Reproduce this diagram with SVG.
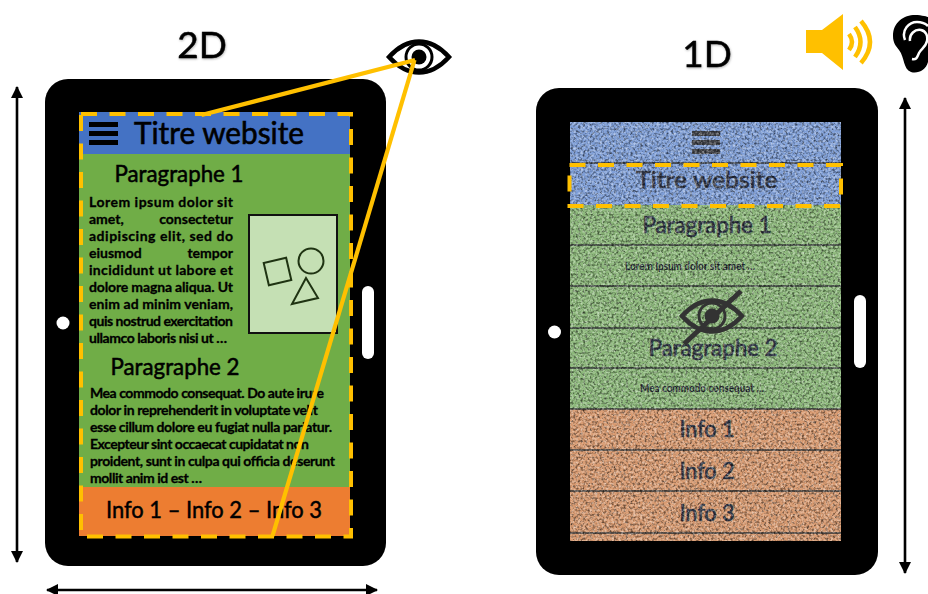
<svg xmlns="http://www.w3.org/2000/svg" width="928" height="594" viewBox="0 0 928 594">
<style>
text{font-family:Lato,"Liberation Sans",sans-serif;fill:#000}
.title{font-size:37px;text-anchor:middle;stroke:#000;stroke-width:.5px;filter:url(#soft)}
.h{font-size:24px;text-anchor:middle;stroke:#000;stroke-width:.55px}
.b{font-size:14px;font-weight:700;stroke:#000;stroke-width:.3px}
.r{font-size:24px;text-anchor:middle;fill:#2a3040;stroke:#2a3040;stroke-width:.7px}
.s{font-size:10.5px;text-anchor:middle;fill:#1f2430;font-weight:700}
.dash{fill:none;stroke:#FFC000;stroke-width:4;stroke-dasharray:16 12.5}
.sep{stroke:#2f3235;stroke-width:1.6}
.arrow{stroke:#000;stroke-width:2.6;fill:none}
.y{stroke:#FFC000;stroke-width:4.200;fill:none}
</style>
<defs>
<filter id="soft" x="-10%" y="-10%" width="120%" height="120%"><feDropShadow dx="0.5" dy="1" stdDeviation="1" flood-color="#000" flood-opacity=".3"/></filter>
<filter id="noise" x="0" y="0" width="100%" height="100%" color-interpolation-filters="sRGB">
<feTurbulence type="fractalNoise" baseFrequency="0.42" numOctaves="2" seed="7" result="n"/>
<feColorMatrix in="n" type="matrix" values="0 0 0 0 0 0 0 0 0 0 0 0 0 0 0 1.500 0 0 0 -0.680" result="d"/>
<feColorMatrix in="n" type="matrix" values="0 0 0 0 1 0 0 0 0 1 0 0 0 0 1 0 1.100 0 0 -0.460" result="l"/>
<feMerge result="m"><feMergeNode in="l"/><feMergeNode in="d"/></feMerge>
<feGaussianBlur in="m" stdDeviation="0.5"/>
</filter>
<marker id="ah" markerUnits="userSpaceOnUse" markerWidth="13" markerHeight="13" refX="11" refY="6" orient="auto-start-reverse"><path d="M0 0L12 6L0 12Z" fill="#000"/></marker>
<g id="eye-shape">
<path d="M-30 0C-20 -11 -10 -15.500 0 -15.500C10 -15.500 20 -11 30 0C20 11 10 15.500 0 15.500C-10 15.500 -20 11 -30 0Z" fill="none" stroke="currentColor" stroke-width="4.500"/>
<circle r="13" fill="none" stroke="currentColor" stroke-width="3"/>
<circle r="7.500" fill="currentColor"/>
</g>
</defs>

<g id="tablet-2d">
<rect x="45" y="79" width="341" height="487" rx="23" fill="#000"/>
<circle cx="63" cy="323" r="6.500" fill="#fff"/>
<rect x="362" y="286" width="12" height="73" rx="6" fill="#fff"/>
<rect x="79" y="112" width="271" height="42" fill="#4472C4"/>
<rect x="79" y="154" width="271" height="334" fill="#70AD47"/>
<rect x="79" y="487" width="271" height="49" fill="#ED7D31"/>
</g>
<g id="menu-2d" fill="#000"><rect x="89" y="122" width="29" height="5"/><rect x="89" y="131" width="29" height="5"/><rect x="89" y="140" width="29" height="5"/></g>
<g id="header-2d"><text x="219" y="144" font-size="30" text-anchor="middle" stroke="#000" stroke-width=".6" textLength="170" lengthAdjust="spacingAndGlyphs">Titre website</text></g>
<g id="para1">
<text x="179" y="182" class="h" textLength="129" lengthAdjust="spacingAndGlyphs">Paragraphe 1</text>
<g class="b">
<text x="89" y="207" textLength="144">Lorem ipsum dolor sit</text>
<text x="89" y="224">amet,</text><text x="233" y="224" text-anchor="end">consectetur</text>
<text x="89" y="241" textLength="144">adipiscing elit, sed do</text>
<text x="89" y="258">eiusmod</text><text x="233" y="258" text-anchor="end">tempor</text>
<text x="89" y="275" textLength="144">incididunt ut labore et</text>
<text x="89" y="292" textLength="144">dolore magna aliqua. Ut</text>
<text x="89" y="309" textLength="144">enim ad minim veniam,</text>
<text x="89" y="326" textLength="144">quis nostrud exercitation</text>
<text x="89" y="343" textLength="138">ullamco laboris nisi ut …</text>
</g>
</g>
<g id="image-2d" fill="none" stroke="#1f3312" stroke-width="2">
<rect x="249" y="215" width="88" height="118" fill="#C5E0B4" stroke="#111"/>
<rect x="266" y="260" width="23" height="23" transform="rotate(-13 277.500 271.500)"/>
<circle cx="311" cy="261" r="12.500"/>
<path d="M306 278L318 298L292 304Z"/>
</g>
<g id="para2">
<text x="175" y="375" class="h" textLength="129" lengthAdjust="spacingAndGlyphs">Paragraphe 2</text>
<g class="b">
<text x="90" y="398" textLength="234">Mea commodo consequat. Do aute irure</text>
<text x="90" y="415" textLength="228">dolor in reprehenderit in voluptate velit</text>
<text x="90" y="432" textLength="242">esse cillum dolore eu fugiat nulla pariatur.</text>
<text x="90" y="449" textLength="219">Excepteur sint occaecat cupidatat non</text>
<text x="90" y="466" textLength="245">proident, sunt in culpa qui officia deserunt</text>
<text x="90" y="483" textLength="112">mollit anim id est …</text>
</g>
</g>
<g id="footer-2d"><text x="214" y="518" font-size="24" text-anchor="middle" stroke="#000" stroke-width=".5" textLength="216" lengthAdjust="spacingAndGlyphs">Info 1 – Info 2 – Info 3</text></g>

<g id="tablet-1d">
<rect x="536" y="88" width="342" height="487" rx="23" fill="#000"/>
<circle cx="554.500" cy="332" r="6.500" fill="#fff"/>
<rect x="854" y="295" width="12" height="73" rx="6" fill="#fff"/>
<rect x="570" y="122" width="271" height="83" fill="#7F9FD8"/>
<rect x="570" y="205" width="271" height="204" fill="#8CB87A"/>
<rect x="570" y="409" width="271" height="132" fill="#D89A70"/>
</g>
<g id="rows-1d">
<line class="sep" x1="570" y1="163" x2="841" y2="163"/>
<line class="sep" x1="570" y1="245" x2="841" y2="245"/>
<line class="sep" x1="570" y1="286" x2="841" y2="286"/>
<line class="sep" x1="570" y1="328" x2="841" y2="328"/>
<line class="sep" x1="570" y1="368" x2="841" y2="368"/>
<line class="sep" x1="570" y1="409" x2="841" y2="409"/>
<line class="sep" x1="570" y1="450" x2="841" y2="450"/>
<line class="sep" x1="570" y1="491" x2="841" y2="491"/>
<line class="sep" x1="570" y1="533" x2="841" y2="533"/>
</g>
<g id="menu-1d" fill="#3c3e44"><rect x="692" y="131" width="28" height="5"/><rect x="692" y="140" width="28" height="5"/><rect x="692" y="149" width="28" height="5"/></g>
<g id="labels-1d">
<text x="707" y="188" class="r" textLength="141" lengthAdjust="spacingAndGlyphs">Titre website</text>
<text x="707" y="233" class="r" textLength="129" lengthAdjust="spacingAndGlyphs">Paragraphe 1</text>
<text x="690" y="270" class="s" textLength="130" lengthAdjust="spacingAndGlyphs">Lorem Ipsum dolor sit amet …</text>
<text x="713" y="356" class="r" textLength="129" lengthAdjust="spacingAndGlyphs">Paragraphe 2</text>
<text x="702" y="392" class="s" textLength="124" lengthAdjust="spacingAndGlyphs">Mea commodo consequat …</text>
<text x="707" y="437" class="r" textLength="55" lengthAdjust="spacingAndGlyphs">Info 1</text>
<text x="707" y="479" class="r" textLength="55" lengthAdjust="spacingAndGlyphs">Info 2</text>
<text x="707" y="521" class="r" textLength="55" lengthAdjust="spacingAndGlyphs">Info 3</text>
</g>
<rect id="texture-1d" x="570" y="122" width="271" height="419" fill="#000" filter="url(#noise)"/>
<g id="eye-off" color="#333"><use href="#eye-shape" transform="translate(712 316)"/><line x1="684" y1="344" x2="741" y2="291" stroke="#333" stroke-width="5"/></g>

<g id="connectors">
<line class="arrow" x1="17" y1="87" x2="17" y2="562" marker-start="url(#ah)" marker-end="url(#ah)"/>
<line class="arrow" x1="47" y1="590" x2="377" y2="590" marker-start="url(#ah)" marker-end="url(#ah)"/>
<line class="arrow" x1="905" y1="98" x2="905" y2="573" marker-start="url(#ah)" marker-end="url(#ah)"/>
<rect class="dash" x="81" y="114" width="270" height="422.500"/>
<rect class="dash" x="569.500" y="165" width="271.500" height="41"/>
</g>

<g id="title-2d"><text x="202" y="58" class="title">2D</text></g>
<g id="title-1d"><text x="707" y="67" class="title">1D</text></g>
<g id="eye" color="#000"><use href="#eye-shape" transform="translate(419 57)"/></g>
<g id="sight-lines">
<line class="y" x1="201.500" y1="115" x2="415" y2="60"/>
<line class="y" x1="272.500" y1="536" x2="414.500" y2="60"/>
</g>
<g id="speaker">
<path d="M806 30H822L843 14V70L822 53H806Z" fill="#FFC000"/>
<path d="M849 34Q855 42 849 50M855 27Q866 42 855 57M861 21Q879 42 861 63" fill="none" stroke="#FFC000" stroke-width="4.500"/>
</g>
<g id="ear">
<path d="M893 36C893 22 904 15 915 15C922 15 928 17 928 17V62C926 70 918 74 911 72C903 69 905 58 899 50C896 46 893 43 893 36Z" fill="#000"/>
<path d="M905 40C901 30 909 22 917 22C922 22 926 24 928 26M910 41C909 34 915 29 921 30C926 31 928 36 927 41C926 47 921 49 919 53C917 57 917 60 912 59" fill="none" stroke="#fff" stroke-width="2.500"/>
</g>
</svg>
